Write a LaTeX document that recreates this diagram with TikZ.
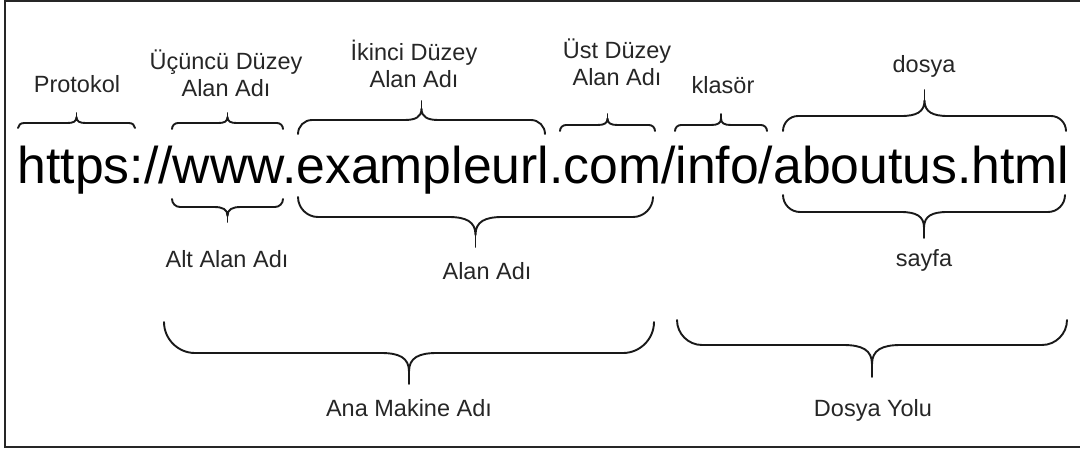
\documentclass[tikz,border=0pt]{standalone}
\usepackage{fontspec}
\setmainfont{Liberation Sans}
\usetikzlibrary{calc}

\tikzset{
	lbl/.style={font=\fontsize{23.5}{27}\selectfont, text=black!85, align=center, inner sep=0pt, anchor=base},
	brc/.style={line width=1.9pt, line cap=round, line join=round, color=black!90},
}

% curly brace: (left x, right x)(end y, line y, tip y)
\def\urlbrace(#1,#2)(#3,#4,#5){
	\pgfmathsetmacro\bxm{(#1+#2)/2}
	\pgfmathsetmacro\bdA{#4-#3}
	\pgfmathsetmacro\bdB{#5-#4}
	\pgfmathsetmacro\bdR{max(abs(\bdA),6)}
	\pgfmathsetmacro\bdC{0.9*abs(\bdB)}
	\draw[brc] (#1,#3) .. controls (#1,{#3+0.55*(\bdA)}) and ({#1+0.45*\bdR},#4) .. ({#1+\bdR},#4)
		-- ({\bxm-\bdC},#4) .. controls ({\bxm-0.35*\bdC},#4) and (\bxm,{#4+0.15*(\bdB)}) .. (\bxm,{#4+0.6*(\bdB)})
		.. controls (\bxm,{#4+0.15*(\bdB)}) and ({\bxm+0.35*\bdC},#4) .. ({\bxm+\bdC},#4)
		-- ({#2-\bdR},#4) .. controls ({#2-0.45*\bdR},#4) and (#2,{#3+0.55*(\bdA)}) .. (#2,#3);
	\draw[brc] (\bxm,{#4+0.6*(\bdB)}) -- (\bxm,#5);
}

\begin{document}
\begin{tikzpicture}[x=1pt, y=-1pt]
	%%%%% START %%%%%
	\useasboundingbox (0,0) rectangle (1080,450);
	
	\draw[line width=2pt, color=black!85] (1080,0.8) -- (5,0.8) -- (5,446.5) -- (1080,446.5);
	
	\node[anchor=base west, inner sep=0pt, font=\fontsize{51.7}{60}\selectfont] (url) at (17.5,183) {https://www.exampleurl.com/info/aboutus.html};
	
	% above the url
	\urlbrace(18,135)(128,123,113)
	\urlbrace(172,283)(129,123,113)
	\urlbrace(298,545)(134,120,101)
	\urlbrace(560,655)(131,125,114)
	\urlbrace(675,767)(131,125,114)
	\urlbrace(783,1066)(131,116,90)
	
	\node[lbl] (proto) at (77,92) {Protokol};
	\node[lbl] (third) at (226,96) {Üçüncü Düzey\\Alan Adı};
	\node[lbl] (second) at (414,87) {İkinci Düzey\\Alan Adı};
	\node[lbl] (top) at (617,85) {Üst Düzey\\Alan Adı};
	\node[lbl] (folder) at (723,93) {klasör};
	\node[lbl] (file) at (924,72) {dosya};
	
	% below the url
	\urlbrace(172,283)(199,207,222)
	\urlbrace(298,653)(197,217,247)
	\urlbrace(783,1065)(195,212,238)
	
	\node[lbl] (sub) at (227,267) {Alt Alan Adı};
	\node[lbl] (domain) at (487,279) {Alan Adı};
	\node[lbl] (page) at (924,266) {sayfa};
	
	% bottom row
	\urlbrace(164,654)(322,353,384)
	\urlbrace(677,1067)(320,345,377)
	
	\node[lbl] (host) at (409,416) {Ana Makine Adı};
	\node[lbl] (path) at (873,416) {Dosya Yolu};
	
	%%%%% END %%%%%
\end{tikzpicture}
\end{document}
